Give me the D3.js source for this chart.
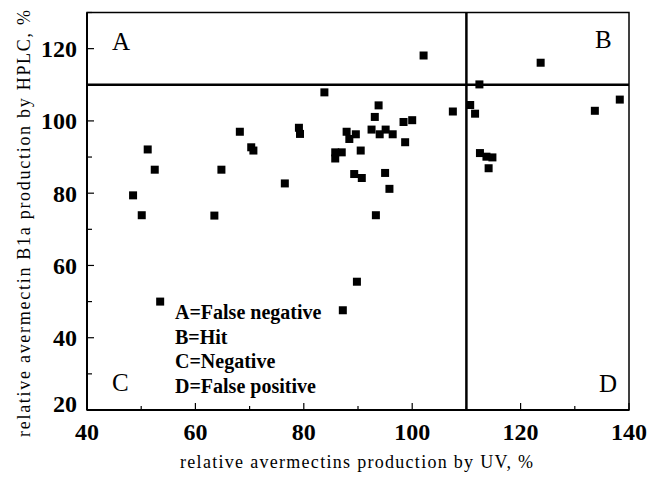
<!DOCTYPE html>
<html>
<head>
<meta charset="utf-8">
<script src="https://cdn.jsdelivr.net/npm/d3@7"></script>
<style>
  body { margin: 0; background: #fff; }
  text { font-family: "Liberation Serif", "DejaVu Serif", serif; fill: #000; }
</style>
</head>
<body>
<div id="chart"></div>
<script>
// data
const uvValues = [48.5, 50.1, 51.2, 52.5, 53.5, 63.5, 64.8, 68.2, 70.3, 70.7,
  76.5, 79.1, 79.3, 83.8, 85.8, 87.0, 85.8, 87.2, 87.9, 88.4,
  89.6, 89.3, 90.7, 89.8, 90.5, 92.5, 93.1, 93.8, 93.3, 94.0,
  95.1, 95.0, 95.8, 96.4, 98.4, 98.7, 100.0, 102.1, 107.5, 110.7,
  111.6, 112.4, 112.5, 113.7, 114.8, 114.1, 123.7, 133.7, 138.3]
const hplcValues = [79.4, 73.9, 92.1, 86.5, 50.0, 73.8, 86.5, 97.0, 92.7, 91.8,
  82.7, 98.1, 96.4, 107.9, 91.3, 91.3, 89.6, 47.6, 97.0, 95.0,
  96.3, 85.3, 84.2, 55.5, 91.8, 97.6, 101.1, 104.3, 73.9, 96.3,
  97.6, 85.6, 81.2, 96.3, 99.7, 94.1, 100.2, 118.1, 102.6, 104.4,
  102.0, 110.1, 91.1, 90.1, 89.9, 86.9, 116.1, 102.8, 105.9]
const xTicks = [40, 60, 80, 100, 120, 140]
const yTicks = [20, 40, 60, 80, 100, 120]
const thresholdX = 110
const thresholdY = 110
const quadrants = ['A', 'B', 'C', 'D']
const legendLines = ['A=False negative', 'B=Hit', 'C=Negative', 'D=False positive']

const svgWidth = 649
const svgHeight = 479
const margin = { top: 12.5, right: 20, bottom: 69, left: 87 }
const width = svgWidth - margin.left - margin.right
const height = svgHeight - margin.top - margin.bottom

const svg = d3.select('#chart').append('svg').attr('width', svgWidth).attr('height', svgHeight)
const chartGroup = svg.append('g').attr('transform', `translate(${margin.left}, ${margin.top})`)

const x = d3.scaleLinear().domain([40, 140]).range([0, width])
const y = d3.scaleLinear().domain([20, 130]).range([height, 0])

// ticks point inward, minor every 10
const minorX = d3.range(40, 141, 10)
const minorY = d3.range(20, 131, 10)

chartGroup.selectAll('.xtick').data(minorX).enter().append('line')
  .attr('x1', d => x(d)).attr('x2', d => x(d))
  .attr('y1', height).attr('y2', d => height - (xTicks.includes(d) ? 7 : 4))
  .attr('stroke', '#000').attr('stroke-width', 1.2)
chartGroup.selectAll('.ytick').data(minorY).enter().append('line')
  .attr('y1', d => y(d)).attr('y2', d => y(d))
  .attr('x1', 0).attr('x2', d => (yTicks.includes(d) ? 7 : 5))
  .attr('stroke', '#000').attr('stroke-width', 1.2)

// tick labels
chartGroup.selectAll('.xlab').data(xTicks).enter().append('text')
  .attr('x', d => x(d)).attr('y', height + 30)
  .attr('text-anchor', 'middle').attr('font-size', 24).attr('font-weight', 'bold')
  .text(d => d)
chartGroup.selectAll('.ylab').data(yTicks).enter().append('text')
  .attr('x', -10).attr('y', d => y(d) - (d === 20 ? 6 : 0)).attr('dy', '0.35em')
  .attr('text-anchor', 'end').attr('font-size', 24).attr('font-weight', 'bold')
  .text(d => d)

// frame
chartGroup.append('rect').attr('width', width).attr('height', height)
  .attr('fill', 'none').attr('stroke', '#000').attr('stroke-width', 1.5)
chartGroup.append('line').attr('x1', 0).attr('x2', 0).attr('y1', 0).attr('y2', height)
  .attr('stroke', '#000').attr('stroke-width', 2)
chartGroup.append('line').attr('x1', 0).attr('x2', width).attr('y1', height).attr('y2', height)
  .attr('stroke', '#000').attr('stroke-width', 2)

// threshold lines
chartGroup.append('line').attr('x1', x(thresholdX)).attr('x2', x(thresholdX))
  .attr('y1', 0).attr('y2', height).attr('stroke', '#000').attr('stroke-width', 2.5)
chartGroup.append('line').attr('x1', 0).attr('x2', width)
  .attr('y1', y(thresholdY)).attr('y2', y(thresholdY)).attr('stroke', '#000').attr('stroke-width', 2.5)

// points
const points = uvValues.map((v, i) => ({ uv: v, hplc: hplcValues[i] }))
chartGroup.selectAll('rect.pt').data(points).enter().append('rect')
  .attr('class', 'pt')
  .attr('x', d => x(d.uv) - 4).attr('y', d => y(d.hplc) - 4)
  .attr('width', 8).attr('height', 8).attr('fill', '#000')

// quadrant letters
const quadPos = [[25, 37.5], [508, 35.5], [25, 378.5], [512, 379.5]]
chartGroup.selectAll('.quad').data(quadrants).enter().append('text')
  .attr('x', (d, i) => quadPos[i][0]).attr('y', (d, i) => quadPos[i][1])
  .attr('font-size', 25).text(d => d)

// legend
chartGroup.selectAll('.leg').data(legendLines).enter().append('text')
  .attr('x', 88).attr('y', (d, i) => 306.8 + i * 24.5)
  .attr('font-size', 20).attr('font-weight', 'bold').text(d => d)

// axis titles
svg.append('text').attr('x', 180).attr('y', 468)
  .attr('font-size', 18).attr('textLength', 353).attr('lengthAdjust', 'spacing')
  .text('relative avermectins production by UV, %')
svg.append('text').attr('transform', 'translate(30, 437) rotate(-90)')
  .attr('font-size', 18).attr('textLength', 427).attr('lengthAdjust', 'spacing')
  .text('relative avermectin B1a production by HPLC, %')
</script>
</body>
</html>
